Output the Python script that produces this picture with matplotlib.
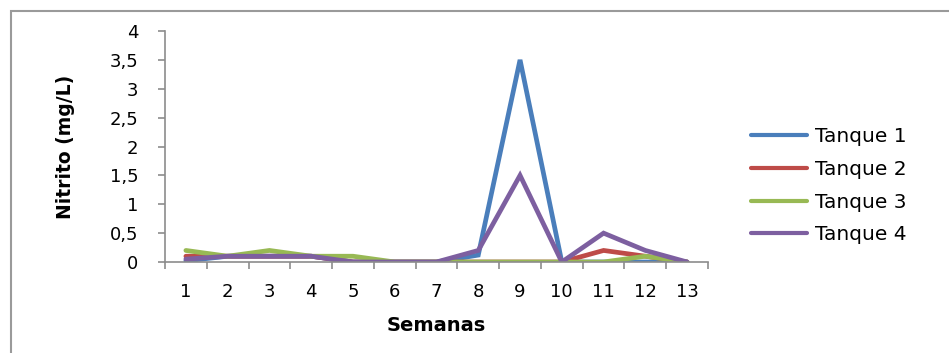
import matplotlib.pyplot as plt
from matplotlib.patches import Rectangle

plt.rcParams['font.family'] = ['DejaVu Sans']

semanas = list(range(1, 14))
tanque1 = [0.02, 0.1, 0.1, 0.1, 0, 0, 0, 0.12, 3.5, 0, 0, 0, 0]
tanque2 = [0.1, 0.1, 0.1, 0.1, 0, 0, 0, 0, 0, 0, 0.2, 0.1, 0]
tanque3 = [0.2, 0.1, 0.2, 0.1, 0.1, 0, 0, 0, 0, 0, 0, 0.1, 0]
tanque4 = [0.05, 0.1, 0.1, 0.1, 0, 0, 0, 0.2, 1.5, 0, 0.5, 0.2, 0]

series = [
    ("Tanque 1", tanque1, "#4A7EBB"),
    ("Tanque 2", tanque2, "#BE4B48"),
    ("Tanque 3", tanque3, "#98B954"),
    ("Tanque 4", tanque4, "#7D5FA0"),
]

fig = plt.figure(figsize=(9.49, 3.53), dpi=100)
# chart frame
fig.patches.append(Rectangle((11 / 949, -0.1), 1.1, (353 - 11) / 353 + 0.1,
                             transform=fig.transFigure, fill=False,
                             edgecolor="#9a9a9a", linewidth=1.5))

ax = fig.add_axes([165 / 949, (353 - 262) / 353, (708 - 165) / 949, (262 - 31) / 353])

for name, vals, color in series:
    ax.plot(semanas, vals, color=color, linewidth=3.4, label=name,
            solid_capstyle="round", solid_joinstyle="miter")

ax.set_xlim(0.5, 13.5)
ax.set_ylim(0, 4)
ax.set_xticks(semanas)
ax.set_xticks([x + 0.5 for x in range(0, 14)], minor=True)
ax.tick_params(axis="x", which="major", length=0, pad=15, labelsize=13)
ax.tick_params(axis="x", which="minor", length=5, width=1.2, color="#8c8c8c", direction="out")
ax.set_yticks([0, 0.5, 1, 1.5, 2, 2.5, 3, 3.5, 4])
ax.set_yticklabels(["0", "0,5", "1", "1,5", "2", "2,5", "3", "3,5", "4"])
ax.tick_params(axis="y", length=5, width=1.2, color="#8c8c8c", pad=14, labelsize=13)

for side in ("top", "right"):
    ax.spines[side].set_visible(False)
for side in ("left", "bottom"):
    ax.spines[side].set_color("#8c8c8c")
    ax.spines[side].set_linewidth(1.2)

ax.set_xlabel("Semanas", fontsize=14, fontweight="bold", labelpad=11)
ax.set_ylabel("Nitrito (mg/L)", fontsize=13.5, fontweight="bold", labelpad=25)

leg = ax.legend(loc="center left", bbox_to_anchor=(1.045, 0.33), frameon=False,
                fontsize=14.5, handlelength=2.8, handletextpad=0.4, labelspacing=0.68)
for line in leg.get_lines():
    line.set_linewidth(3)

fig.savefig("out.png", dpi=100)
